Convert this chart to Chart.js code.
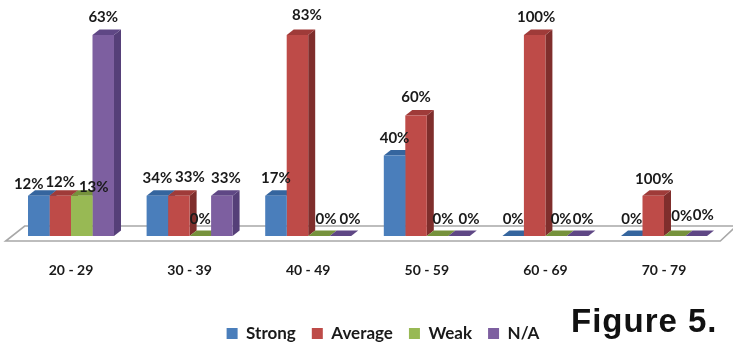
<!DOCTYPE html>
<html>
<head>
<meta charset="utf-8">
<title>Figure 5.</title>
<script src="https://cdn.jsdelivr.net/npm/chart.js@4/dist/chart.umd.min.js"></script>
<style>
  html, body { margin: 0; padding: 0; background: #fff; }
  canvas { display: block; }
</style>
</head>
<body>
<canvas id="graphCanvas" width="733" height="346"></canvas>
<script>
var ageGroups = ['20 - 29', '30 - 39', '40 - 49', '50 - 59', '60 - 69', '70 - 79'];

// bar heights are head counts per age group
var strongCounts  = [1, 1, 1, 2, 0, 0];
var averageCounts = [1, 1, 5, 3, 5, 1];
var weakCounts    = [1, 0, 0, 0, 0, 0];
var naCounts      = [5, 1, 0, 0, 0, 0];

// printed labels are each bar's share of its age group
var strongShares  = ['12%', '34%', '17%', '40%', '0%', '0%'];
var averageShares = ['12%', '33%', '83%', '60%', '100%', '100%'];
var weakShares    = ['13%', '0%', '0%', '0%', '0%', '0%'];
var naShares      = ['63%', '33%', '0%', '0%', '0%', '0%'];

var seriesNames = ['Strong', 'Average', 'Weak', 'N/A'];

// front, side and top colours of each series
var frontColors = ['#4a7ebb', '#be4b48', '#98b954', '#7d5fa0'];
var sideColors  = ['#2f5a8e', '#7f2e2c', '#6a8439', '#553f78'];
var topColors   = ['#35659e', '#9f3b39', '#76923c', '#5f4785'];

var allShares = [strongShares, averageShares, weakShares, naShares];

// extrusion of the bars
var depthX = 7;
var depthY = 5.5;

// label offsets from the top centre of each bar, [series][group]
var labelNudge = [
    [[-10, -11.5], [0, -17.5], [0, -17.5], [0, -17], [0, -17], [0, -17]],
    [[0, -13.5], [11, -18.5], [9.5, -20], [0, -18], [1.5, -18], [1, -16.5]],
    [[12, -8.5], [0, -17], [7, -17], [5.5, -17], [5, -17], [7, -20]],
    [[0, -18], [4, -17.5], [9.5, -17], [10, -17], [5.5, -17], [7, -21]]
];

function fillPoly(ctx, color, pts)
{
    ctx.fillStyle = color;
    ctx.beginPath();
    ctx.moveTo(pts[0][0], pts[0][1]);
    for (var i = 1; i < pts.length; i++) {
        ctx.lineTo(pts[i][0], pts[i][1]);
    }
    ctx.closePath();
    ctx.fill();
}

// moves the legend off centre and down once the layout is done
var legendShift = {
    id: 'legendShift',
    afterLayout: function (chart) {
        chart.legend.left += 15.5;
        chart.legend.right += 15.5;
        chart.legend.top += 6;
        chart.legend.bottom += 6;
    }
};

// floor plate, and the side and top of every bar, under the library's front faces
var boxFaces = {
    id: 'boxFaces',
    beforeDatasetsDraw: function (chart) {
        var ctx = chart.ctx;
        var area = chart.chartArea;
        var floorY = chart.scales.y.getPixelForValue(0);

        ctx.save();
        ctx.strokeStyle = '#a8a8a8';
        ctx.lineWidth = 1.6;
        ctx.beginPath();
        ctx.moveTo(area.left - 6, floorY + 5);
        ctx.lineTo(area.right - 3, floorY + 5);
        ctx.lineTo(area.right + 13, floorY - 10);
        ctx.lineTo(area.left + 13, floorY - 10);
        ctx.closePath();
        ctx.stroke();

        chart.data.datasets.forEach(function (ds, s) {
            chart.getDatasetMeta(s).data.forEach(function (bar) {
                var l = bar.x - bar.width / 2;
                var r = bar.x + bar.width / 2;
                fillPoly(ctx, sideColors[s], [
                    [r, bar.y], [r + depthX, bar.y - depthY],
                    [r + depthX, floorY - depthY], [r, floorY]
                ]);
                fillPoly(ctx, topColors[s], [
                    [l, bar.y], [r, bar.y],
                    [r + depthX, bar.y - depthY], [l + depthX, bar.y - depthY]
                ]);
            });
        });
        ctx.restore();
    }
};

// percentage labels and the figure caption
var shareLabels = {
    id: 'shareLabels',
    afterDatasetsDraw: function (chart) {
        var ctx = chart.ctx;
        ctx.save();
        ctx.fillStyle = '#1a1a1a';
        ctx.font = 'bold 15px Lato';
        ctx.textAlign = 'center';
        ctx.textBaseline = 'middle';
        chart.data.datasets.forEach(function (ds, s) {
            chart.getDatasetMeta(s).data.forEach(function (bar, g) {
                var nudge = labelNudge[s][g];
                ctx.fillText(allShares[s][g], bar.x + nudge[0], bar.y + nudge[1]);
            });
        });

        ctx.fillStyle = '#111';
        ctx.font = 'bold 33px "Liberation Sans"';
        ctx.textAlign = 'left';
        ctx.textBaseline = 'alphabetic';
        ctx.letterSpacing = '1px';
        ctx.fillText('Figure 5.', 571, 332);
        ctx.restore();
    }
};

var seriesValues = [strongCounts, averageCounts, weakCounts, naCounts];
var datasets = [];
for (var i in seriesNames) {
    datasets.push({
        label: seriesNames[i],
        backgroundColor: frontColors[i],
        borderWidth: 0,
        data: seriesValues[i]
    });
}

var graphTarget = document.getElementById('graphCanvas');

var barGraph = new Chart(graphTarget, {
    type: 'bar',
    data: { labels: ageGroups, datasets: datasets },
    plugins: [legendShift, boxFaces, shareLabels],
    options: {
        responsive: false,
        animation: false,
        layout: { padding: { left: 11.7, right: 9.7, top: 35, bottom: 0 } },
        datasets: { bar: { categoryPercentage: 0.725, barPercentage: 1 } },
        scales: {
            x: {
                grid: { display: false },
                border: { display: false },
                ticks: {
                    color: '#1a1a1a',
                    font: { family: 'Lato', size: 14, weight: 'bold' },
                    padding: 18,
                    maxRotation: 0
                },
                afterFit: function (scale) { scale.height = 67; }
            },
            y: { display: false, min: 0, max: 5 }
        },
        plugins: {
            tooltip: { enabled: false },
            legend: {
                position: 'bottom',
                labels: {
                    boxWidth: 11,
                    boxHeight: 11,
                    padding: 16,
                    color: '#1a1a1a',
                    font: { family: 'Lato', size: 17, weight: 'bold' }
                }
            }
        }
    }
});
</script>
</body>
</html>
